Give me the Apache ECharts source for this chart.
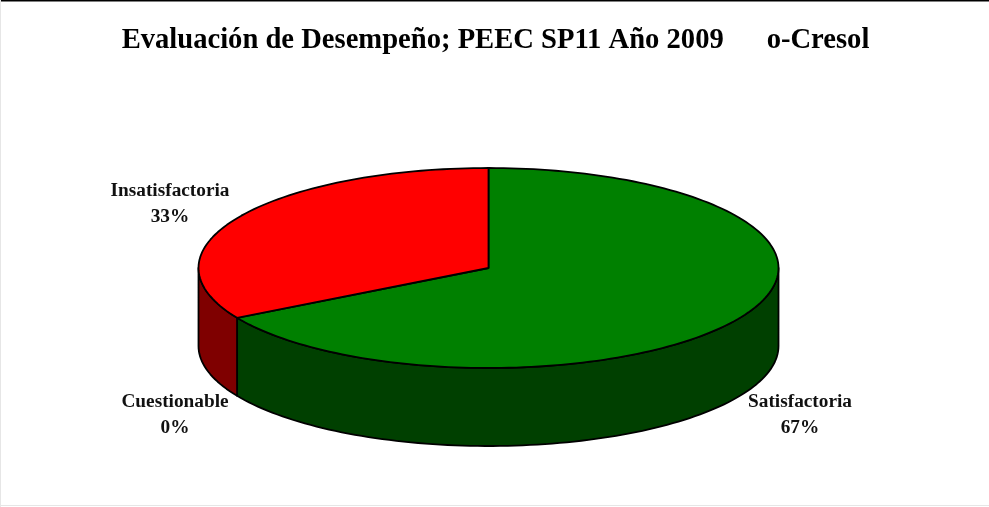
<!DOCTYPE html>
<html>
<head>
<meta charset="utf-8">
<title>o-Cresol</title>
<script src="https://cdn.jsdelivr.net/npm/echarts@6/dist/echarts.min.js"></script>
<style>
  html, body { margin: 0; padding: 0; background: #fff; }
  #chart-container { width: 989px; height: 507px; }
</style>
</head>
<body>
<div id="chart-container"></div>
<script>
// order is clockwise from 12 o'clock, same as the picture
var categories = ['Satisfactoria', 'Cuestionable', 'Insatisfactoria'];
var values = [66.7, 0, 33.3];
var topColors = ['#008000', '#800000', '#ff0000'];
var sideColors = ['#004000', '#400000', '#7f0000'];
var titleText = 'Evaluación de Desempeño; PEEC SP11 Año 2009      o-Cresol';

// label centres, excel puts them by hand
var labelPos = [[800, 415], [175, 415], [170, 204]];

var cx = 488.5, cy = 268, rx = 290, ry = 100, depth = 78;
var total = values.reduce(function (a, b) { return a + b; }, 0);

function rim(deg, drop) {
    var rad = deg * Math.PI / 180;
    return [cx + rx * Math.sin(rad), cy - ry * Math.cos(rad) + drop];
}

function arc(from, to, drop) {
    var pts = [];
    var n = Math.max(2, Math.ceil(Math.abs(to - from) / 1.5));
    for (var i = 0; i <= n; i++) {
        pts.push(rim(from + (to - from) * i / n, drop));
    }
    return pts;
}

function sliceAngles(idx, value) {
    var before = 0;
    for (var i = 0; i < idx; i++) before += values[i];
    return [before / total * 360, (before + value) / total * 360];
}

function renderWall(params, api) {
    var idx = params.dataIndex;
    var value = api.value(0);
    var angles = sliceAngles(idx, value);
    var children = [];

    // only the part of the wall between 90 and 270 deg faces the viewer
    var wallFrom = Math.max(angles[0], 90);
    var wallTo = Math.min(angles[1], 270);
    if (value > 0 && wallTo > wallFrom) {
        children.push({
            type: 'polygon',
            shape: { points: arc(wallFrom, wallTo, 0).concat(arc(wallTo, wallFrom, depth)) },
            style: { fill: sideColors[idx], stroke: '#000', lineWidth: 1.8, lineJoin: 'round' }
        });
    }
    return { type: 'group', children: children };
}

function renderTop(params, api) {
    var idx = params.dataIndex;
    var value = api.value(0);
    var angles = sliceAngles(idx, value);
    var children = [];

    if (value > 0) {
        children.push({
            type: 'polygon',
            shape: { points: [[cx, cy]].concat(arc(angles[0], angles[1], 0)) },
            style: { fill: topColors[idx], stroke: '#000', lineWidth: 1.8, lineJoin: 'round' }
        });
    }
    children.push({
        type: 'text',
        x: labelPos[idx][0],
        y: labelPos[idx][1],
        style: {
            text: categories[idx] + '\n' + Math.round(value / total * 100) + '%',
            fill: '#111',
            font: 'bold 19.3px "Liberation Serif"',
            lineHeight: 26,
            align: 'center',
            verticalAlign: 'middle'
        }
    });
    return { type: 'group', children: children };
}

var dom = document.getElementById('chart-container');
var myChart = echarts.init(dom, null, { renderer: 'canvas' });

var option = {
    backgroundColor: '#fff',
    animation: false,
    title: {
        text: titleText,
        left: 490.5,
        textAlign: 'center',
        top: 21,
        textStyle: {
            color: '#000',
            fontFamily: 'Liberation Serif',
            fontWeight: 'bold',
            fontSize: 28.6
        }
    },
    graphic: [
        { type: 'rect', shape: { x: 0, y: 0, width: 989, height: 1.5 }, style: { fill: '#000' } },
        { type: 'rect', shape: { x: 0, y: 0, width: 1, height: 507 }, style: { fill: '#e6e6e6' } },
        { type: 'rect', shape: { x: 0, y: 505, width: 989, height: 1 }, style: { fill: '#e6e6e6' } }
    ],
    series: [
        { type: 'custom', coordinateSystem: 'none', renderItem: renderWall, data: values, z: 2 },
        { type: 'custom', coordinateSystem: 'none', renderItem: renderTop, data: values, z: 3 }
    ]
};

myChart.setOption(option);
window.addEventListener('resize', myChart.resize);
</script>
</body>
</html>
